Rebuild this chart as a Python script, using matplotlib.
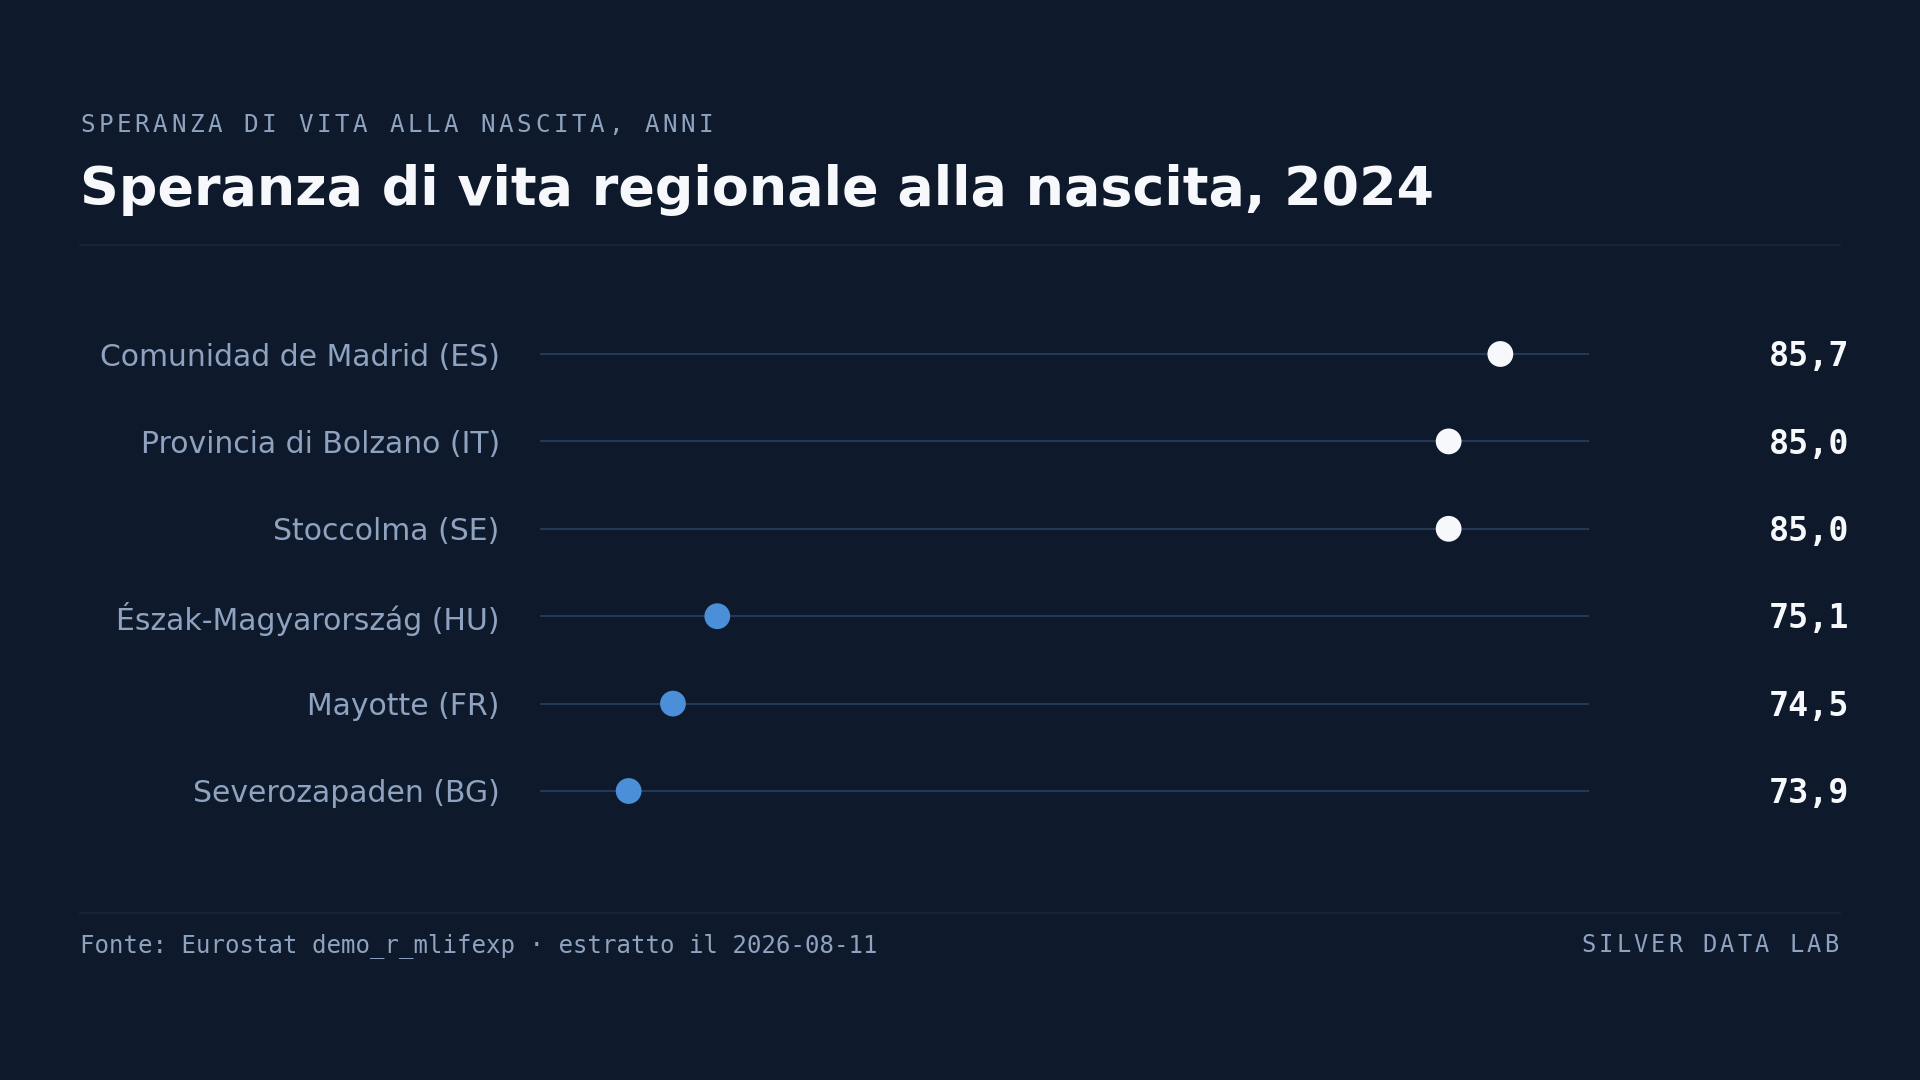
import matplotlib
matplotlib.use("Agg")
import matplotlib.pyplot as plt

regions = [
    "Comunidad de Madrid (ES)",
    "Provincia di Bolzano (IT)",
    "Stoccolma (SE)",
    "Észak-Magyarország (HU)",
    "Mayotte (FR)",
    "Severozapaden (BG)",
]
life_exp = [85.7, 85.0, 85.0, 75.1, 74.5, 73.9]
value_labels = ["85,7", "85,0", "85,0", "75,1", "74,5", "73,9"]

BG = "#0e1a2b"
MUTED = "#8fa3c0"
WHITE = "#f6f8fb"
BLUE = "#4a8fd8"
TRACK = "#263d5a"
RULE = "#1a2739"

W, H = 1920, 1080


def fx(px):
    return px / W


def fy(py):
    return 1 - py / H


def spaced_text(fig, x_px, y_px, text, size, color, advance_px, ha="left"):
    # matplotlib has no letter-spacing, so place each char ourselves
    total = advance_px * len(text)
    start = x_px if ha == "left" else x_px - total
    for i, ch in enumerate(text):
        fig.text(fx(start + i * advance_px), fy(y_px), ch, fontsize=size,
                 color=color, family="DejaVu Sans Mono", va="baseline",
                 ha="left")


fig = plt.figure(figsize=(19.2, 10.8), dpi=100)
fig.patch.set_facecolor(BG)

# header
spaced_text(fig, 80, 132, "SPERANZA DI VITA ALLA NASCITA, ANNI", 17.5, MUTED, 18.2)
fig.text(fx(80), fy(205), "Speranza di vita regionale alla nascita, 2024",
         fontsize=38.8, fontweight="bold", color=WHITE, va="baseline",
         family="DejaVu Sans")
fig.add_artist(plt.Line2D([fx(80), fx(1840)], [fy(245), fy(245)],
                          color=RULE, lw=1.2))

# dot plot
lo, hi = 72.7, 86.9
row_h = 87.4
top = 354 - row_h / 2
ax = fig.add_axes([fx(540), fy(top + row_h * 6), fx(1589) - fx(540),
                   row_h * 6 / H])
ax.set_facecolor(BG)
ax.set_xlim(lo, hi)
ax.set_ylim(len(regions) - 0.5, -0.5)

ys = list(range(len(regions)))
ax.hlines(ys, lo, hi, color=TRACK, lw=1.3, zorder=1)
colors = [WHITE if v >= 80 else BLUE for v in life_exp]
ax.scatter(life_exp, ys, s=345, c=colors, zorder=3, linewidths=0)

ax.set_yticks(ys)
ax.set_yticklabels(regions, fontsize=21.5, color=MUTED, family="DejaVu Sans")
ax.tick_params(axis="y", length=0, pad=29)
ax.set_xticks([])
for sp in ax.spines.values():
    sp.set_visible(False)

right_ax = (1849 - 540) / (1589 - 540)
for y, lab in zip(ys, value_labels):
    ax.text(right_ax, y + 0.03, lab, transform=ax.get_yaxis_transform(),
            ha="right", va="center", fontsize=24, fontweight="bold",
            color=WHITE, family="DejaVu Sans Mono", clip_on=False)

# footer
fig.add_artist(plt.Line2D([fx(80), fx(1840)], [fy(913), fy(913)],
                          color=RULE, lw=1.2))
fig.text(fx(80), fy(952), "Fonte: Eurostat demo_r_mlifexp · estratto il 2026-08-11",
         fontsize=17.25, color=MUTED, family="DejaVu Sans Mono", va="baseline")
spaced_text(fig, 1841, 952, "SILVER DATA LAB", 17, MUTED, 17.3, ha="right")

fig.savefig("out.png", dpi=100, facecolor=BG)
